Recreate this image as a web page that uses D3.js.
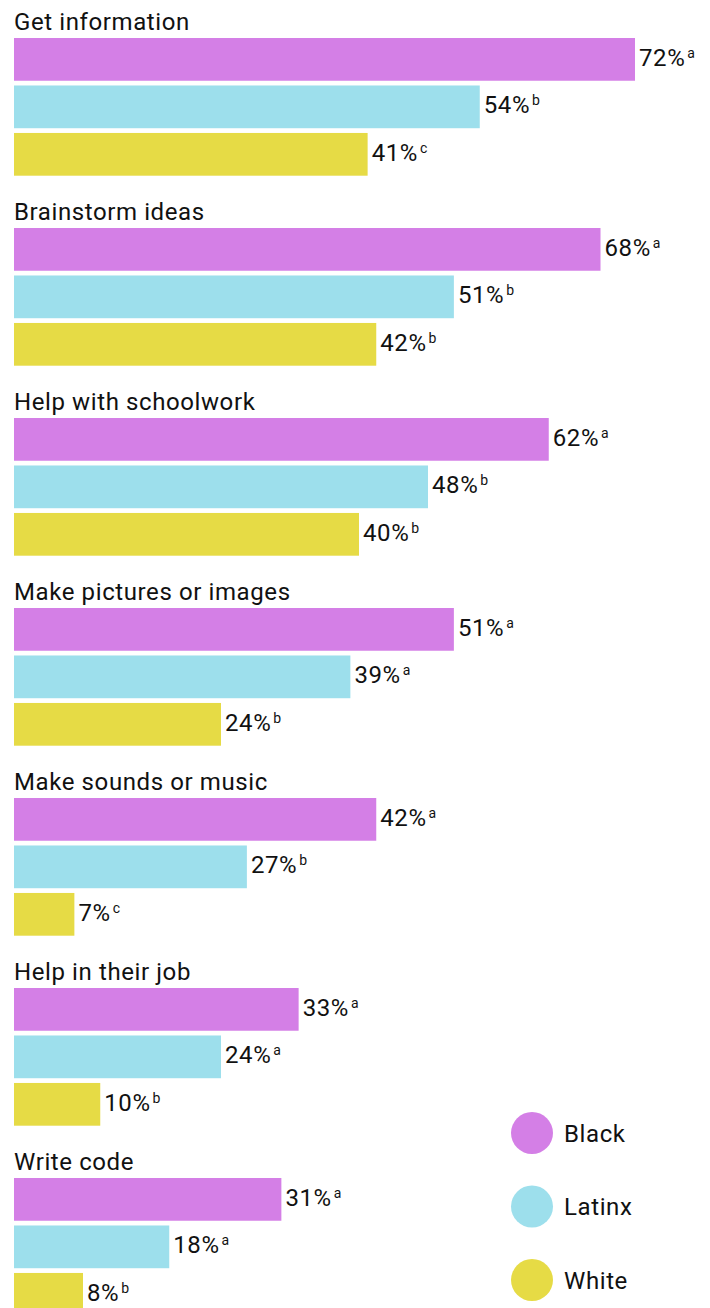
<html>
<head>
    <style>
        body { margin: 0; background: white; font-family: Roboto, sans-serif; }
        svg { display: block; }
        text { letter-spacing: 0.6px; }
    </style>
    <script src="https://cdn.jsdelivr.net/npm/d3@7/dist/d3.min.js"></script>
</head>
<body>
<svg id="chart"></svg>
<script>
    // categories (one group each, top to bottom)
    let categories = ["Get information", "Brainstorm ideas", "Help with schoolwork",
        "Make pictures or images", "Make sounds or music", "Help in their job", "Write code"]
    let groups = ["Black", "Latinx", "White"]
    let blackValues = [72, 68, 62, 51, 42, 33, 31]
    let latinxValues = [54, 51, 48, 39, 27, 24, 18]
    let whiteValues = [41, 42, 40, 24, 7, 10, 8]
    // significance letters next to each value
    let blackLetters = ["a", "a", "a", "a", "a", "a", "a"]
    let latinxLetters = ["b", "b", "b", "a", "b", "a", "a"]
    let whiteLetters = ["c", "b", "b", "b", "c", "b", "b"]
    let colors = ["#d47fe6", "#9ddfec", "#e6db45"]

    let width = 710, height = 1308
    let svg = d3.select("#chart").attr("width", width).attr("height", height)

    let rows = categories.map((c, i) => ({
        category: c,
        bars: [
            { group: "Black", value: blackValues[i], letter: blackLetters[i] },
            { group: "Latinx", value: latinxValues[i], letter: latinxLetters[i] },
            { group: "White", value: whiteValues[i], letter: whiteLetters[i] }
        ]
    }))

    let xScale = d3.scaleLinear().domain([0, 100]).range([14, 14 + 862.5])
    let groupScale = d3.scaleBand().domain(categories).range([0, 190 * categories.length])
    let barScale = d3.scaleBand().domain(groups).range([38, 38 + 137.7]).paddingInner(0.1)
    let color = d3.scaleOrdinal().domain(groups).range(colors)

    let groupG = svg.selectAll(".group")
        .data(rows)
        .enter().append("g")
        .attr("class", "group")
        .attr("transform", d => `translate(0,${groupScale(d.category)})`)

    groupG.append("text")
        .attr("x", 14)
        .attr("y", 29.5)
        .attr("font-size", 24)
        .attr("fill", "#111")
        .text(d => d.category)

    let bar = groupG.selectAll(".bar")
        .data(d => d.bars)
        .enter().append("g")
        .attr("class", "bar")

    bar.append("rect")
        .attr("x", xScale(0))
        .attr("y", d => barScale(d.group))
        .attr("width", d => xScale(d.value) - xScale(0))
        .attr("height", barScale.bandwidth())
        .attr("fill", d => color(d.group))

    let label = bar.append("text")
        .attr("x", d => xScale(d.value) + 4)
        .attr("y", d => barScale(d.group) + 28)
        .attr("font-size", 24)
        .attr("fill", "#111")
    label.append("tspan").text(d => d.value + "%")
    label.append("tspan")
        .attr("dx", 2)
        .attr("dy", -8)
        .attr("font-size", 14)
        .text(d => d.letter)

    // legend at bottom right
    let legendScale = d3.scalePoint().domain(groups).range([1133, 1280])
    let legend = svg.selectAll(".legend")
        .data(groups)
        .enter().append("g")
        .attr("class", "legend")
        .attr("transform", d => `translate(532,${legendScale(d)})`)
    legend.append("circle")
        .attr("r", 21)
        .attr("fill", d => color(d))
    legend.append("text")
        .attr("x", 32)
        .attr("y", 8.5)
        .attr("font-size", 24)
        .attr("fill", "#111")
        .text(d => d)
</script>
</body>
</html>
